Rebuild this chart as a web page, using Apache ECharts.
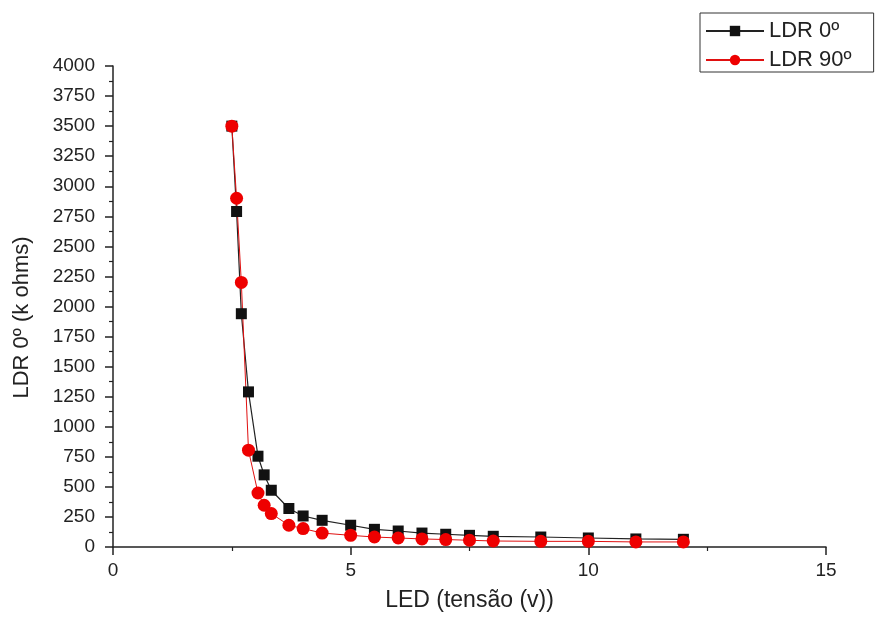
<!DOCTYPE html>
<html>
<head>
<meta charset="utf-8">
<script src="https://cdn.jsdelivr.net/npm/echarts@6/dist/echarts.min.js"></script>
<style>
html, body { margin: 0; padding: 0; background: #fff; }
#main { width: 875px; height: 620px; }
</style>
</head>
<body>
<div id="main"></div>
<script>
// tensão do LED (v)
var tensao = [2.5, 2.6, 2.7, 2.85, 3.05, 3.18, 3.33, 3.7, 4.0, 4.4, 5, 5.5, 6, 6.5, 7, 7.5, 8, 9, 10, 11, 12];
// resistência (k ohms)
var ldr0 = [3500, 2790, 1940, 1290, 755, 600, 472, 320, 258, 222, 181, 147, 133, 116, 106, 97, 89, 83, 75, 67, 64];
var ldr90 = [3500, 2900, 2200, 805, 449, 347, 278, 181, 153, 116, 97, 83, 75, 67, 62, 56, 50, 47, 47, 42, 42];

function pares(xs, ys) {
    var out = [];
    for (var i = 0; i < xs.length; i++) {
        out.push([xs[i], ys[i]]);
    }
    return out;
}

var chart = echarts.init(document.getElementById('main'));

var eixo = {
    axisLine: { show: true, lineStyle: { color: '#222', width: 1.5 } },
    axisTick: { show: true, inside: false, length: 8, lineStyle: { color: '#222', width: 1.5 } },
    minorTick: { show: true, splitNumber: 2, length: 4, lineStyle: { color: '#222', width: 1.2 } },
    splitLine: { show: false },
    axisLabel: { color: '#222', fontSize: 19, formatter: function (v) { return String(v); } }
};

var option = {
    backgroundColor: '#fff',
    animation: false,
    textStyle: { fontFamily: 'Liberation Sans, Arial, sans-serif' },
    grid: { left: 113, right: 49, top: 66, bottom: 73 },
    legend: {
        orient: 'vertical',
        left: 700,
        top: 13,
        padding: [7, 22, 1, 5],
        borderColor: '#333',
        borderWidth: 1,
        itemWidth: 58,
        itemHeight: 13,
        itemGap: 7,
        textStyle: { fontSize: 22, color: '#222' },
        data: ['LDR 0º', 'LDR 90º']
    },
    xAxis: echarts.util.merge({
        type: 'value',
        min: 0,
        max: 15,
        interval: 5,
        name: 'LED (tensão (v))',
        nameLocation: 'middle',
        nameGap: 42,
        nameTextStyle: { fontSize: 23, color: '#222' }
    }, echarts.util.merge({ axisLabel: { margin: 14 } }, eixo, false), false),
    yAxis: echarts.util.merge({
        type: 'value',
        min: 0,
        max: 4000,
        interval: 250,
        name: 'LDR 0º (k ohms)',
        nameLocation: 'middle',
        nameGap: 80,
        nameRotate: 90,
        nameTextStyle: { fontSize: 22, color: '#222', padding: [0, 22, 0, 0] }
    }, echarts.util.merge({ axisLabel: { margin: 18 } }, eixo, false), false),
    series: [
        {
            name: 'LDR 0º',
            type: 'line',
            data: pares(tensao, ldr0),
            symbol: 'rect',
            symbolSize: 11,
            itemStyle: { color: '#111' },
            lineStyle: { color: '#222', width: 1.2 }
        },
        {
            name: 'LDR 90º',
            type: 'line',
            data: pares(tensao, ldr90),
            symbol: 'circle',
            symbolSize: 13,
            itemStyle: { color: '#ee0000' },
            lineStyle: { color: '#e01010', width: 1 }
        }
    ]
};

chart.setOption(option);
</script>
</body>
</html>
